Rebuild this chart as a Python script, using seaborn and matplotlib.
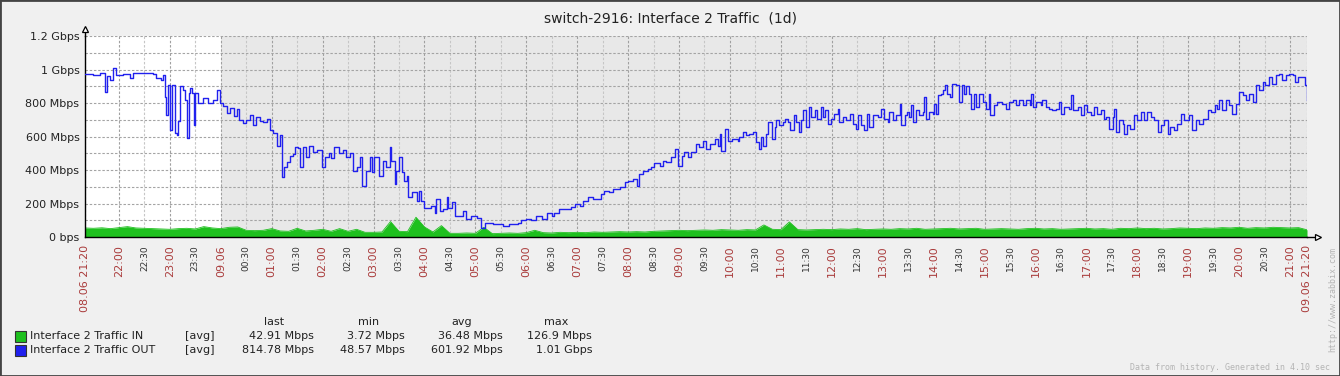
import numpy as np
import seaborn as sns
import matplotlib
matplotlib.use("Agg")
from matplotlib import pyplot as plt
from matplotlib.patches import Rectangle

title = "switch-2916: Interface 2 Traffic  (1d)"

# OUT traffic, Mbps (time of day, value)
out_times = [
    "21:20", "21:30", "21:38", "21:44", "21:46", "21:49", "21:53", "21:57", "22:05", "22:13",
    "22:17", "22:29", "22:40", "22:44", "22:50", "22:52", "22:54", "22:56", "22:58", "23:00",
    "23:03", "23:06", "23:08", "23:10", "23:12", "23:15", "23:18", "23:20", "23:22", "23:24",
    "23:26", "23:28", "23:30", "23:33", "23:39", "23:45", "23:51", "23:55", "23:59", "00:03",
    "00:07", "00:11", "00:15", "00:19", "00:22", "00:26", "00:30", "00:34", "00:38", "00:42",
    "00:46", "00:50", "00:54", "00:58", "01:02", "01:06", "01:10", "01:12", "01:14", "01:18",
    "01:21", "01:25", "01:28", "01:31", "01:33", "01:37", "01:41", "01:44", "01:49", "01:53",
    "01:59", "02:03", "02:07", "02:10", "02:14", "02:19", "02:24", "02:28", "02:32", "02:36",
    "02:41", "02:44", "02:47", "02:51", "02:56", "02:58", "03:01", "03:07", "03:11", "03:15",
    "03:19", "03:21", "03:25", "03:27", "03:30", "03:33", "03:36", "03:39", "03:41", "03:45",
    "03:51", "03:54", "03:56", "04:00", "04:08", "04:12", "04:14", "04:18", "04:22", "04:26",
    "04:28", "04:32", "04:36", "04:41", "04:45", "04:49", "04:55", "05:02", "05:07", "05:11",
    "05:21", "05:32", "05:40", "05:50", "05:54", "06:00", "06:06", "06:12", "06:18", "06:24",
    "06:30", "06:33", "06:39", "06:47", "06:53", "06:57", "07:03", "07:07", "07:13", "07:19",
    "07:28", "07:32", "07:38", "07:42", "07:50", "07:56", "08:00", "08:06", "08:10", "08:13",
    "08:17", "08:23", "08:27", "08:31", "08:37", "08:41", "08:45", "08:51", "08:55", "08:59",
    "09:03", "09:06", "09:10", "09:14", "09:20", "09:24", "09:28", "09:32", "09:36", "09:42",
    "09:46", "09:48", "09:50", "09:54", "09:58", "10:03", "10:09", "10:11", "10:15", "10:19",
    "10:23", "10:27", "10:31", "10:34", "10:37", "10:39", "10:43", "10:45", "10:49", "10:53",
    "10:54", "10:58", "11:02", "11:05", "11:08", "11:11", "11:15", "11:18", "11:21", "11:24",
    "11:26", "11:30", "11:33", "11:36", "11:40", "11:43", "11:47", "11:50", "11:52", "11:55",
    "11:59", "12:03", "12:07", "12:09", "12:13", "12:17", "12:21", "12:25", "12:28", "12:31",
    "12:34", "12:38", "12:42", "12:44", "12:48", "12:54", "12:58", "13:02", "13:06", "13:08",
    "13:12", "13:16", "13:20", "13:22", "13:26", "13:29", "13:31", "13:33", "13:36", "13:39",
    "13:43", "13:47", "13:49", "13:51", "13:55", "13:59", "14:01", "14:03", "14:05", "14:09",
    "14:11", "14:14", "14:16", "14:19", "14:22", "14:26", "14:30", "14:33", "14:36", "14:38",
    "14:42", "14:44", "14:48", "14:50", "14:53", "14:58", "15:02", "15:05", "15:07", "15:11",
    "15:15", "15:21", "15:25", "15:29", "15:33", "15:37", "15:41", "15:45", "15:49", "15:53",
    "15:55", "15:57", "16:01", "16:06", "16:08", "16:12", "16:16", "16:20", "16:24", "16:28",
    "16:30", "16:34", "16:40", "16:42", "16:44", "16:50", "16:54", "16:57", "17:01", "17:05",
    "17:09", "17:13", "17:17", "17:21", "17:23", "17:27", "17:31", "17:33", "17:35", "17:39",
    "17:43", "17:44", "17:48", "17:52", "17:56", "18:00", "18:04", "18:08", "18:12", "18:16",
    "18:20", "18:24", "18:28", "18:32", "18:36", "18:39", "18:43", "18:47", "18:51", "18:55",
    "19:01", "19:05", "19:09", "19:13", "19:17", "19:23", "19:27", "19:31", "19:34", "19:36",
    "19:40", "19:44", "19:48", "19:52", "19:56", "20:00", "20:04", "20:08", "20:12", "20:16",
    "20:20", "20:24", "20:28", "20:31", "20:35", "20:39", "20:43", "20:47", "20:51", "20:55",
    "20:59", "21:03", "21:06", "21:09", "21:16", "21:18", "21:20",
]
out_mbps = [
    976, 970, 980, 866, 960, 940, 1006, 965, 975, 950,
    980, 980, 975, 950, 940, 965, 836, 726, 906, 636,
    906, 618, 610, 690, 900, 880, 820, 590, 860, 890,
    860, 666, 860, 800, 830, 800, 820, 876, 800, 780,
    740, 770, 720, 766, 700, 680, 696, 730, 670, 716,
    690, 686, 706, 640, 620, 546, 606, 360, 420, 446,
    486, 498, 536, 530, 416, 540, 476, 546, 510, 520,
    416, 476, 500, 470, 536, 500, 518, 480, 500, 396,
    416, 476, 306, 396, 480, 386, 476, 366, 456, 416,
    536, 456, 318, 396, 476, 386, 336, 366, 236, 266,
    216, 276, 216, 176, 186, 146, 226, 156, 166, 236,
    176, 206, 126, 126, 156, 106, 126, 116, 56, 86,
    76, 66, 80, 86, 102, 106, 102, 126, 106, 146,
    126, 146, 166, 166, 180, 196, 186, 216, 236, 226,
    256, 276, 266, 286, 296, 326, 336, 346, 306, 376,
    396, 406, 420, 440, 426, 456, 446, 476, 526, 426,
    486, 506, 476, 506, 556, 536, 576, 526, 556, 586,
    546, 616, 516, 646, 576, 586, 576, 596, 626, 606,
    616, 626, 566, 526, 596, 546, 616, 686, 586, 656,
    696, 666, 686, 706, 686, 636, 726, 686, 626, 696,
    756, 656, 776, 716, 760, 706, 776, 716, 756, 676,
    706, 736, 766, 686, 716, 696, 736, 676, 646, 726,
    666, 636, 736, 656, 730, 716, 766, 706, 686, 746,
    696, 730, 796, 666, 730, 746, 716, 786, 686, 756,
    730, 746, 836, 706, 746, 736, 796, 736, 846, 856,
    876, 906, 856, 836, 916, 906, 806, 906, 856, 900,
    856, 766, 856, 776, 856, 806, 766, 856, 726, 786,
    806, 796, 766, 806, 816, 786, 816, 786, 816, 790,
    856, 776, 806, 786, 816, 776, 766, 756, 766, 806,
    736, 776, 766, 846, 756, 776, 726, 786, 746, 726,
    776, 736, 756, 706, 716, 646, 716, 766, 626, 696,
    676, 616, 666, 646, 726, 696, 746, 696, 746, 716,
    696, 626, 666, 696, 616, 656, 636, 676, 736, 696,
    726, 636, 696, 676, 706, 756, 746, 786, 766, 816,
    756, 816, 786, 736, 796, 866, 846, 816, 856, 806,
    906, 876, 926, 906, 956, 916, 966, 976, 936, 966,
    976, 966, 926, 956, 956, 906, 816,
]

# IN traffic, Mbps, one reading every 10 minutes from 21:20
in_mbps = [
    54, 52, 55, 50, 56, 62, 54, 52, 50, 48,
    46, 50, 52, 48, 62, 54, 50, 58, 60, 40,
    38, 40, 50, 36, 34, 52, 36, 40, 46, 34,
    50, 34, 46, 28, 28, 30, 92, 34, 32, 118,
    60, 30, 68, 22, 22, 24, 22, 58, 20, 22,
    24, 22, 26, 40, 26, 24, 28, 26, 28, 26,
    30, 28, 30, 32, 30, 32, 30, 34, 36, 38,
    40, 38, 40, 42, 40, 44, 42, 40, 44, 42,
    72, 46, 44, 90, 44, 42, 44, 46, 44, 48,
    46, 50, 44, 46, 48, 46, 50, 48, 52, 46,
    48, 50, 52, 48, 50, 52, 46, 48, 50, 48,
    46, 50, 52, 48, 50, 46, 48, 50, 52, 48,
    50, 46, 52, 50, 54, 50, 52, 48, 50, 54,
    52, 50, 54, 52, 56, 54, 58, 52, 56, 54,
    58, 56, 54, 56, 43,
]

y_ticks = [0, 200, 400, 600, 800, 1000, 1200]
y_labels = ["0 bps", "200 Mbps", "400 Mbps", "600 Mbps", "800 Mbps", "1 Gbps", "1.2 Gbps"]

legend_names = ["Interface 2 Traffic IN", "Interface 2 Traffic OUT"]
legend_heads = ["last", "min", "avg", "max"]
legend_in = ["42.91 Mbps", "3.72 Mbps", "36.48 Mbps", "126.9 Mbps"]
legend_out = ["814.78 Mbps", "48.57 Mbps", "601.92 Mbps", "1.01 Gbps"]

GREEN = "#1ec01e"
BLUE = "#2020ee"
RED = "#aa3c3c"
BG = "#f0f0f0"
W, H = 1340, 376


def to_minutes(times, start=21 * 60 + 20):
    res = []
    prev = -1
    for t in times:
        h, m = map(int, t.split(":"))
        v = (h * 60 + m - start) % 1440
        while v < prev:
            v += 1440
        res.append(v)
        prev = v
    return np.array(res)


def clock(m):
    t = (21 * 60 + 20 + m) % 1440
    return f"{t // 60:02d}:{t % 60:02d}"


out_min = to_minutes(out_times)
in_min = np.arange(len(in_mbps)) * 10

fig = plt.figure(figsize=(W / 100, H / 100), dpi=100, facecolor=BG)
ax = fig.add_axes([85 / W, 1 - 237 / H, 1222 / W, 201 / H])
ax.set_facecolor("white")
ax.set_axisbelow(True)

# shaded part of the day after midnight
ax.axvspan(160, 1440, color="#e8e8e8", zorder=0, lw=0)

ax.fill_between(in_min, in_mbps, color=GREEN, lw=0, zorder=2)
sns.lineplot(x=in_min, y=in_mbps, ax=ax, color=GREEN, linewidth=0.6, zorder=2)
sns.lineplot(x=out_min, y=out_mbps, ax=ax, color=BLUE, linewidth=1.0,
             drawstyle="steps-post", zorder=3)

ax.set_xlim(0, 1440)
ax.set_ylim(0, 1200)

# x ticks: hours in red, half hours in dark grey
hours = list(range(40, 1440, 60))
majors = [0] + hours + [1440]
major_labels = []
for m in majors:
    if m == 0:
        major_labels.append("08.06 21:20")
    elif m == 1440:
        major_labels.append("09.06 21:20")
    elif m == 160:
        major_labels.append("09.06")
    else:
        major_labels.append(clock(m))
halves = list(range(70, 1440, 60))
ax.set_xticks(majors, labels=major_labels)
ax.set_xticks(halves, labels=[clock(m) for m in halves], minor=True)
ax.tick_params(axis="x", which="major", length=0, pad=6, labelsize=8,
               labelcolor=RED, labelrotation=90)
ax.tick_params(axis="x", which="minor", length=0, pad=6, labelsize=6.5,
               labelcolor="#333333", labelrotation=90)
for lab in ax.get_xticklabels(which="both"):
    lab.set_verticalalignment("top")

ax.set_yticks(y_ticks, labels=y_labels)
ax.set_yticks(range(100, 1200, 200), minor=True)
ax.tick_params(axis="y", which="both", length=0, pad=4, labelsize=8, labelcolor="#222222")

dash = (0, (2.2, 1.6))
ax.grid(axis="x", which="major", color="#a0a0a0", ls=dash, lw=0.8)
ax.grid(axis="x", which="minor", color="#c6c6c6", ls=dash, lw=0.8)
ax.grid(axis="y", which="both", color="#a4a4a4", ls=dash, lw=0.8)

ax.set_xlabel("")
ax.set_ylabel("")
for s in ["top", "right"]:
    ax.spines[s].set_visible(False)
for s in ["left", "bottom"]:
    ax.spines[s].set_color("black")
    ax.spines[s].set_linewidth(1.0)

# axis arrows
ax.plot([0, 0], [1, 1.035], transform=ax.transAxes, color="black", lw=1, clip_on=False)
ax.plot([0], [1.035], transform=ax.transAxes, marker="^", ms=5, mfc="white",
        mec="black", mew=0.9, clip_on=False)
ax.plot([1, 1.009], [0, 0], transform=ax.transAxes, color="black", lw=1, clip_on=False)
ax.plot([1.009], [0], transform=ax.transAxes, marker=">", ms=5, mfc="white",
        mec="black", mew=0.9, clip_on=False)

fig.text(0.5, 1 - 18 / H, title, ha="center", va="center", fontsize=10, color="#222222")


def px(x, y):
    return x / W, 1 - y / H


# legend table
col_right = [314, 405, 503, 592]
head_center = [274, 369, 462, 556]
for head, hx in zip(legend_heads, head_center):
    fig.text(*px(hx, 322), head, ha="center", va="center", fontsize=8, color="#222222")
for i, (name, color, vals) in enumerate(zip(legend_names, [GREEN, BLUE], [legend_in, legend_out])):
    y = 336 + 14 * i
    fig.patches.append(Rectangle(px(15, y + 5.5), 11 / W, 11 / H, transform=fig.transFigure,
                                 facecolor=color, edgecolor="#333333", lw=0.8))
    fig.text(*px(30, y), name, ha="left", va="center", fontsize=8, color="#222222")
    fig.text(*px(185, y), "[avg]", ha="left", va="center", fontsize=8, color="#222222")
    for v, cx in zip(vals, col_right):
        fig.text(*px(cx, y), v, ha="right", va="center", fontsize=8, color="#222222")

fig.text(*px(1333, 300), "http://www.zabbix.com", rotation=90, ha="center", va="center",
         fontsize=6, color="#b4b4b4", family="DejaVu Sans Mono")
fig.text(*px(1330, 368), "Data from history. Generated in 4.10 sec", ha="right", va="center",
         fontsize=6, color="#b4b4b4", family="DejaVu Sans Mono")

# outer frame
fig.patches.append(Rectangle((0, 0), 1, 1, transform=fig.transFigure, fill=False,
                             edgecolor="#444444", lw=2))

fig.savefig("out.png", dpi=100, facecolor=BG)
